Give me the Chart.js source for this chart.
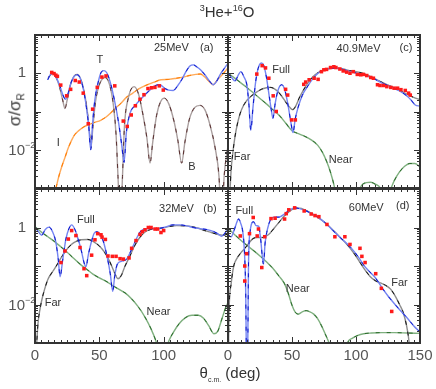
<!DOCTYPE html>
<html><head><meta charset="utf-8">
<script src="https://cdn.jsdelivr.net/npm/chart.js@4.4.0/dist/chart.umd.min.js"></script>
<style>
body{margin:0;background:#fff;}
#wrap{position:relative;width:436px;height:389px;overflow:hidden;font-family:'Liberation Sans',Arial,sans-serif;color:#333;}
canvas{position:absolute;left:0;top:0;}
.t{position:absolute;white-space:nowrap;}
</style></head><body>
<div id="wrap">
<canvas id="pa" width="436" height="389"></canvas>
<canvas id="pc" width="436" height="389"></canvas>
<canvas id="pb" width="436" height="389"></canvas>
<canvas id="pd" width="436" height="389"></canvas>
<div class="t" style="left:0;width:454px;top:3px;text-align:center;font-size:15px;"><sup style="font-size:9px">3</sup>He+<sup style="font-size:9px">16</sup>O</div>
<div class="t" style="left:-14px;top:99px;width:60px;text-align:center;font-size:17px;transform:rotate(-90deg);">σ/σ<sub style="font-size:10px">R</sub></div>
<div class="t" style="left:150px;width:160px;top:364px;text-align:center;font-size:15px;">θ<sub style="font-size:7px">c.m.</sub> (deg)</div>
</div>
<script>
// ---------- data (x = theta c.m. in deg, y = sigma/sigma_R) ----------
const energies = ['25MeV', '32MeV', '40.9MeV', '60MeV'];
const xTickLabels = [0, 50, 100, 150];
const yTickLabels = [1, 0.01];

// (a) 25 MeV
const expA = [[13,1.05],[14.8,0.98],[16.2,0.89],[17.4,0.83],[20,0.49],[24.6,0.257],[27.7,0.38],[31.3,0.646],[34.4,0.589],[37.5,0.302],[41.4,0.0479],[44.8,0.115],[48.4,0.427],[52,0.794],[55.2,0.851],[62,0.468],[68.6,0.0562],[71.7,0.0407],[74.8,0.0812],[78,0.141],[81.6,0.209],[84.7,0.275],[87.8,0.398],[90.6,0.417],[93.2,0.427],[96.6,0.468],[99.7,0.363]];
const totalA = [[9.9,0.676],[12,0.933],[14,1.0],[16,0.832],[19,0.501],[21.5,0.282],[23.6,0.209],[25.5,0.282],[28,0.562],[30.5,0.832],[32.9,0.912],[35,0.759],[37.5,0.398],[40,0.126],[41.8,0.0398],[43.3,0.01],[44.8,0.0501],[46.5,0.2],[49,0.562],[51.5,1.07],[53.6,1.17],[56,1.0],[59,0.501],[62,0.178],[65,0.0501],[67.5,0.0126],[69.2,0.00468],[71,0.0282],[73.8,0.0891],[77.5,0.141],[81.6,0.2],[88,0.331],[94.5,0.49],[97,0.501],[101,0.398],[104,0.363],[107.5,0.355],[111,0.479],[114,0.676],[117,1.05],[120.4,1.55],[123,1.66],[125.6,1.48],[129,1.2],[132,0.912],[135.5,0.631],[138.5,0.501],[141,0.603],[143.8,0.912],[147,1.32],[149.5,1.74]];
const barrierA = [[10.4,0.776],[13.5,0.977],[16,0.832],[19,0.447],[21.5,0.2],[23.3,0.12],[25,0.2],[28,0.562],[31,0.891],[33,0.933],[35.5,0.708],[38,0.355],[40.5,0.112],[42.5,0.0251],[43.5,0.0112],[45,0.0398],[47,0.178],[50,0.501],[54.4,0.776],[58,0.501],[61,0.141],[63,0.0251],[64.5,0.002],[66.3,0.0001],[68,0.002],[69.5,0.04],[72.5,0.224],[77,0.447],[80.5,0.282],[84,0.0794],[87,0.02],[89.4,0.00447],[91.5,0.0158],[94.5,0.0794],[97.5,0.178],[100.5,0.224],[104,0.158],[108,0.0562],[111,0.0178],[114,0.00447],[116.5,0.0158],[120,0.0631],[124,0.126],[128.2,0.145],[132,0.112],[136,0.0447],[140,0.0112],[143,0.002],[145,0.0001],[147,0.002],[150,0.0126]];
const internalA = [[16.3,0.001],[18.5,0.002],[20.7,0.00355],[23.3,0.00631],[25.9,0.0112],[28.5,0.0178],[31,0.0251],[34,0.0316],[38,0.0398],[42.7,0.0468],[47,0.0525],[51,0.0589],[55,0.0708],[59,0.0933],[63,0.126],[67,0.166],[71,0.234],[76,0.302],[81,0.398],[86,0.479],[92,0.575],[98,0.676],[104,0.692],[110,0.741],[115,0.794],[120,0.871],[125,0.933],[128.5,0.955],[132,0.794],[135.5,0.603],[138.5,0.501],[142,0.692],[146,0.955],[150,1.38]];

// (b) 32 MeV
const expB = [[20.2,0.123],[23.3,0.245],[25.9,0.501],[28.5,0.832],[31.8,0.617],[35,0.302],[38.1,0.0851],[40.2,0.0562],[44,0.191],[46.6,0.479],[48.7,0.692],[51.3,0.646],[52.1,0.562],[54.7,0.49],[56.7,0.182],[60.1,0.178],[63,0.178],[66.1,0.155],[68.7,0.151],[73.1,0.162],[75.1,0.288],[78.5,0.457],[81.6,0.661],[83.4,0.776],[85.5,0.871],[88.1,1.0],[90.2,1.0],[93.3,0.912],[95.3,0.912],[97.9,0.741],[100,0.832]];
const fullB = [[0,1.02],[2.5,0.794],[5.2,0.631],[8,0.891],[11,1.02],[13.5,0.794],[16,0.447],[18,0.158],[19.5,0.0525],[21.5,0.141],[24,0.501],[26.5,0.955],[28.5,1.17],[31,0.891],[33.5,0.501],[36,0.251],[38,0.126],[39.6,0.0955],[41.5,0.2],[44,0.447],[46,0.708],[47.9,0.776],[50,0.708],[53,0.447],[56,0.178],[58.5,0.0631],[60.4,0.0219],[62,0.0562],[64,0.112],[67,0.132],[71.2,0.151],[76.4,0.339],[81.6,0.759],[87,0.933],[94.5,0.933],[100,1.0],[107.5,1.17],[113,1.17],[118,1.1],[123,1.0],[128.2,0.933],[133,0.891],[138.5,0.794],[142,0.692],[145,0.589],[147.5,0.708],[150,0.933]];
const farB = [[1,0.00063],[2.3,0.00316],[4,0.00794],[5.5,0.0141],[7.5,0.0251],[10,0.0447],[13,0.0661],[16,0.0933],[20,0.158],[24,0.251],[28,0.355],[32,0.437],[36,0.479],[41,0.49],[46,0.417],[50,0.331],[54,0.229],[58,0.132],[61.5,0.0708],[64.5,0.0468],[67,0.0562],[70,0.1],[73.5,0.174],[77,0.316],[81,0.525],[85,0.741],[90,0.891],[98,0.955],[105,1.07],[110,1.12],[117,1.1],[122,1.05],[127,0.955],[132,0.832],[137,0.741],[142,0.661],[146,0.631],[150,0.676]];
const nearB = [[0,1.05],[5,0.759],[10,0.575],[15,0.437],[20,0.316],[25,0.229],[30,0.158],[35,0.112],[40,0.0832],[45,0.0617],[50,0.049],[55,0.0407],[60,0.0316],[65,0.0251],[70,0.02],[75,0.0141],[80,0.00891],[85,0.00501],[90,0.0024],[94,0.00112],[97,0.0005],[101,0.0005],[104,0.00112],[108,0.002],[112,0.00316],[117,0.00457],[122,0.00525],[127,0.00525],[131,0.00437],[135,0.00282],[139,0.00174],[142,0.002],[145,0.00398],[148,0.00794],[150,0.0112]];

// (c) 40.9 MeV
const expC = [[22.5,0.95],[26.7,1.58],[29.3,1.38],[31.9,0.741],[35.3,0.257],[37.7,0.1],[45,0.38],[46.6,0.269],[49.7,0.0603],[52.6,0.0603],[59.2,0.513],[60.7,0.589],[63.4,0.676],[67.3,0.741],[70.4,0.692],[73,1.1],[74.9,1.23],[77,1.26],[80.1,1.41],[82.7,1.48],[84.3,1.41],[87.4,1.29],[90,1.15],[92.7,1.07],[95.3,1.0],[97.9,1.1],[101,0.933],[103.7,0.912],[105.8,0.933],[108.4,0.871],[111.5,0.776],[113.6,0.741],[116.8,0.501],[118.8,0.479],[121.5,0.479],[124.1,0.447],[127.2,0.427],[129.8,0.407],[132.5,0.407],[135.1,0.372],[138.5,0.355],[141.1,0.302],[142.4,0.269]];
const fullC = [[0,1.0],[3,0.759],[5.5,0.631],[8,0.891],[10,1.1],[12.5,0.794],[14.7,0.501],[16.3,0.158],[17.8,0.0316],[19.5,0.126],[21.5,0.562],[23.5,1.32],[26,1.86],[28,1.58],[30,0.794],[32,0.282],[33.8,0.112],[35.1,0.0661],[36.8,0.158],[39,0.355],[42,0.501],[44.5,0.355],[47,0.141],[49.2,0.0501],[50.8,0.0282],[52.5,0.0631],[54.7,0.126],[58,0.263],[61.3,0.407],[65,0.631],[69.1,0.912],[73,1.15],[77,1.29],[81,1.35],[85,1.35],[90,1.26],[95,1.12],[100,1.02],[105,0.933],[110,0.813],[115,0.692],[120,0.562],[125,0.479],[130,0.398],[135,0.331],[140,0.251],[143,0.2],[146.3,0.148],[150,0.138]];
const farC = [[1.5,0.00079],[2.5,0.00316],[3.7,0.00794],[5.5,0.0224],[7.5,0.0501],[9.5,0.0891],[12,0.141],[15,0.2],[18,0.251],[22,0.316],[26,0.38],[30,0.417],[33,0.427],[36,0.398],[39,0.331],[42,0.251],[45,0.178],[48,0.132],[50.5,0.112],[53,0.141],[56,0.24],[60,0.417],[64,0.661],[68,0.912],[73,1.15],[77,1.29],[81,1.35],[85,1.35],[90,1.29],[95,1.17],[100,1.1],[105,1.0],[110,0.851],[115,0.708],[120,0.589],[125,0.49],[130,0.407],[135,0.339],[140,0.282],[145,0.234],[150,0.204]];
const nearC = [[0,1.0],[5,0.759],[10,0.562],[15,0.417],[20,0.302],[25,0.219],[30,0.158],[35,0.112],[40,0.0794],[45,0.0501],[50,0.0316],[55,0.0263],[60,0.0224],[65,0.0182],[70,0.0132],[74,0.00832],[77,0.00501],[80,0.00263],[83,0.00112],[85,0.0005],[100,0.0005],[104,0.00112],[108,0.00138],[111.5,0.00141],[115,0.00126],[119,0.001],[122,0.0005],[126,0.00079],[130,0.00158],[134,0.00263],[138,0.00372],[142,0.00437],[146,0.00437],[150,0.00355]];

// (d) 60 MeV
const expD = [[9.6,0.603],[13.1,0.1],[13.1,0.0407],[14.5,0.209],[16.8,0.692],[19.7,1.82],[22.8,0.603],[23.8,0.912],[26.4,0.0912],[28.7,0.575],[33.6,1.7],[36.8,1.74],[44.2,1.66],[45.5,2.29],[47.5,2.88],[52.1,3.24],[59.5,2.69],[65,2.24],[68,2.04],[71,1.91],[77.3,1.2],[83.5,0.575],[91.3,0.575],[95.3,0.363],[103.1,0.288],[104.6,0.178],[107.1,0.123],[115.4,0.0631],[119.8,0.0263],[127.9,0.0066]];
const fullD = [[0,0.661],[2.4,0.575],[4.5,0.794],[6.5,1.26],[8.3,1.66],[10,1.26],[11.5,0.794],[12.8,0.251],[13.8,0.0251],[14.5,0.00032],[15.3,0.00032],[16,0.1],[17.3,0.794],[19.9,1.41],[22,1.12],[24,1.07],[25.5,0.501],[27.7,0.112],[29,0.398],[31,0.955],[33.5,1.66],[36,1.86],[40,1.86],[44,2.24],[48,2.82],[52,3.24],[56,3.09],[61,2.69],[66,2.24],[71,1.78],[77,1.23],[82,0.832],[88,0.537],[93,0.38],[98,0.251],[103,0.151],[106,0.105],[110,0.0741],[115,0.0501],[120,0.0282],[125,0.0166],[130,0.0105],[135,0.00676],[140,0.00447],[145,0.00282],[150,0.00191]];
const farD = [[0.3,0.0005],[0.8,0.00631],[2.5,0.0355],[4.5,0.1],[7,0.158],[10,0.219],[13,0.282],[16,0.38],[19.5,0.513],[23,0.55],[27,0.55],[30,0.603],[33,0.724],[36,0.955],[40,1.38],[44,2.0],[48,2.63],[52,3.09],[56,3.16],[60,2.88],[65,2.34],[70,1.86],[77,1.23],[83,0.794],[88,0.537],[93,0.363],[98,0.224],[103,0.126],[107,0.0794],[111,0.0537],[115,0.0417],[119,0.0363],[123,0.0316],[127,0.0251],[131,0.0158],[134,0.01],[137,0.00603],[139.5,0.00282],[141,0.00141],[142.5,0.0005]];
const nearD = [[0,0.955],[5,0.661],[10,0.468],[15,0.339],[20,0.251],[25,0.182],[30,0.129],[35,0.0871],[40,0.0537],[44,0.0355],[47,0.02],[50,0.00955],[52.5,0.00631],[55,0.00562],[58,0.00646],[61,0.00692],[64,0.00646],[67,0.00562],[70,0.00427],[73,0.00282],[76,0.0017],[79,0.001],[82,0.0005],[91,0.0005],[94,0.0011],[97,0.00132],[101,0.00155],[106,0.00174],[112,0.00182],[120,0.00186],[130,0.00186],[140,0.00182],[150,0.00178]];

// ---------- rendering ----------
const FONT = '"Liberation Sans", Arial, sans-serif';
const xy = arr => arr.map(p => ({x: p[0], y: p[1]}));

function pts(arr) {
  return {data: xy(arr), showLine: false, pointStyle: 'rect', pointRadius: 2.5,
          pointBackgroundColor: '#ff1a1a', pointBorderWidth: 0, borderWidth: 0};
}
function curve(arr, color, width, dash) {
  return {data: xy(arr), borderColor: color, borderWidth: width, borderDash: dash || [],
          pointRadius: 0, fill: false, cubicInterpolationMode: 'monotone', capBezierPoints: false};
}
function pair(arr, light, dark) {
  return [curve(arr, dark, 1, [4, 7]), curve(arr, light, 1.4)];
}

function framePlugin(cfg) {
  return {
    id: 'frame_' + cfg.name,
    afterDatasetsDraw(chart) {
      const ctx = chart.ctx, a = chart.chartArea, xs = chart.scales.x, ys = chart.scales.y;
      ctx.save();
      ctx.strokeStyle = '#333';
      ctx.lineWidth = 1;
      ctx.beginPath();
      for (let v = 0; v <= 150; v += 5) {
        const px = Math.round(xs.getPixelForValue(v)) + 0.5;
        const len = v % 50 === 0 ? 6 : 3;
        ctx.moveTo(px, a.bottom); ctx.lineTo(px, a.bottom - len);
        ctx.moveTo(px, a.top); ctx.lineTo(px, a.top + len);
      }
      for (let e = -3; e < 1; e++) {
        for (let m = 1; m <= 9; m++) {
          const py = Math.round(ys.getPixelForValue(m * Math.pow(10, e))) + 0.5;
          const len = m === 1 ? 6 : 3;
          ctx.moveTo(a.left, py); ctx.lineTo(a.left + len, py);
          ctx.moveTo(a.right, py); ctx.lineTo(a.right - len, py);
        }
      }
      ctx.stroke();
      ctx.lineWidth = 2;
      ctx.strokeRect(a.left, a.top, a.right - a.left, a.bottom - a.top);

      ctx.fillStyle = '#333';
      ctx.font = '11px ' + FONT;
      ctx.textAlign = 'center';
      ctx.textBaseline = 'middle';
      cfg.notes.forEach(n => ctx.fillText(n.text, xs.getPixelForValue(n.x), ys.getPixelForValue(n.y)));

      if (cfg.xLabels) {
        ctx.font = '15px ' + FONT;
        ctx.textBaseline = 'top';
        ctx.fillStyle = '#555';
        cfg.xLabels.forEach(v => ctx.fillText(String(v), xs.getPixelForValue(v), a.bottom + 5));
      }
      if (cfg.yLabels) {
        ctx.fillStyle = '#555';
        ctx.textBaseline = 'middle';
        cfg.yLabels.forEach(v => {
          const py = ys.getPixelForValue(v);
          if (v === 1) {
            ctx.font = '15px ' + FONT; ctx.textAlign = 'right';
            ctx.fillText('1', a.left - 9, py);
          } else {
            ctx.font = '15px ' + FONT; ctx.textAlign = 'right';
            ctx.fillText('10', a.left - 10, py + 1);
            ctx.font = '9px ' + FONT; ctx.textAlign = 'left';
            ctx.fillText('\u22122', a.left - 10, py - 4);
          }
        });
      }
      ctx.restore();
    }
  };
}

function panel(id, area, datasets, cfg) {
  new Chart(document.getElementById(id), {
    type: 'line',
    data: {datasets},
    options: {
      responsive: false, animation: false, events: [],
      layout: {padding: {left: area.l, top: area.t, right: 436 - area.r, bottom: 389 - area.b}},
      scales: {
        x: {type: 'linear', min: 0, max: 150, display: false},
        y: {type: 'logarithmic', min: 0.001, max: 10, display: false}
      },
      plugins: {legend: {display: false}, tooltip: {enabled: false}}
    },
    plugins: [framePlugin(cfg)]
  });
}

const BLUE_L = '#7484f2', BLUE_D = '#0a14c8';
const GREY_L = '#8c8c8c', GREY_D = '#111111';
const GREEN_L = '#7fb07f', GREEN_D = '#2a6a2a';

panel('pa', {l: 35, t: 35, r: 228, b: 188},
  [pts(expA), ...pair(totalA, BLUE_L, BLUE_D), ...pair(barrierA, '#aa9f9f', '#5a3030'), ...pair(internalA, '#ffaa5a', '#ff7a00')],
  {name: 'a', yLabels: yTickLabels, notes: [
    {text: energies[0], x: 106, y: 4.5}, {text: '(a)', x: 133.5, y: 4.5},
    {text: 'T', x: 50.5, y: 2.2}, {text: 'I', x: 18, y: 0.015}, {text: 'B', x: 122, y: 0.0036}]});

panel('pc', {l: 228, t: 35, r: 420, b: 188},
  [pts(expC), ...pair(fullC, BLUE_L, BLUE_D), ...pair(farC, GREY_L, GREY_D), ...pair(nearC, GREEN_L, GREEN_D)],
  {name: 'c', notes: [
    {text: energies[2], x: 102, y: 4.2}, {text: '(c)', x: 139, y: 4.5},
    {text: 'Full', x: 41.5, y: 1.2}, {text: 'Far', x: 11, y: 0.0063}, {text: 'Near', x: 88, y: 0.0055}]});

panel('pb', {l: 35, t: 189, r: 228, b: 343},
  [pts(expB), ...pair(fullB, BLUE_L, BLUE_D), ...pair(farB, GREY_L, GREY_D), ...pair(nearB, GREEN_L, GREEN_D)],
  {name: 'b', yLabels: yTickLabels, xLabels: xTickLabels.slice(0, 3), notes: [
    {text: energies[1], x: 110, y: 3.0}, {text: '(b)', x: 136, y: 3.0},
    {text: 'Full', x: 39.5, y: 1.6}, {text: 'Far', x: 14, y: 0.011}, {text: 'Near', x: 96, y: 0.0064}]});

panel('pd', {l: 228, t: 189, r: 420, b: 343},
  [pts(expD), ...pair(fullD, BLUE_L, BLUE_D), ...pair(farD, GREY_L, GREY_D), ...pair(nearD, GREEN_L, GREEN_D)],
  {name: 'd', xLabels: xTickLabels, notes: [
    {text: energies[3], x: 108, y: 3.2}, {text: '(d)', x: 136.5, y: 3.6},
    {text: 'Full', x: 12.7, y: 2.7}, {text: 'Near', x: 54.5, y: 0.0246}, {text: 'Far', x: 134, y: 0.036}]});
</script>
</body></html>
